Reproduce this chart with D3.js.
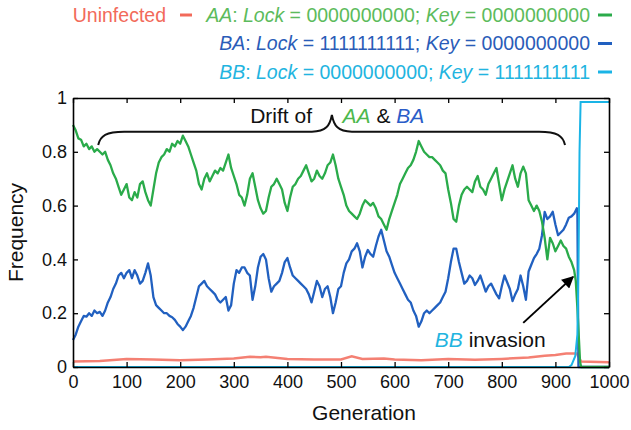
<!DOCTYPE html>
<html>
<head>
<meta charset="utf-8">
<script src="https://cdn.jsdelivr.net/npm/d3@7"></script>
<style>
  html, body { margin: 0; padding: 0; background: #fff; }
  svg { display: block; font-family: "Liberation Sans", Arial, Helvetica, sans-serif; }
</style>
</head>
<body>
<svg id="chart" width="631" height="430"></svg>
<script>
// ---- Data ----
const xTicks = [0, 100, 200, 300, 400, 500, 600, 700, 800, 900, 1000];
const yTicks = [0, 0.2, 0.4, 0.6, 0.8, 1];

// AA: Lock = 0000000000; Key = 0000000000  (green)
const aaSeries = [
  [0,.90],[5,.88],[10,.85],[15,.845],[20,.82],[25,.83],[30,.81],[35,.82],[40,.80],[45,.81],
  [50,.80],[55,.79],[60,.80],[65,.77],[70,.75],[75,.72],[80,.70],[85,.67],[90,.64],[95,.66],
  [100,.68],[105,.63],[110,.62],[115,.65],[120,.63],[125,.68],[130,.69],[135,.65],[140,.62],[145,.60],
  [150,.66],[155,.72],[160,.76],[165,.78],[170,.79],[175,.81],[180,.80],[185,.83],[190,.82],[195,.84],
  [200,.83],[205,.86],[210,.84],[215,.82],[220,.79],[225,.76],[230,.73],[235,.68],[240,.66],[245,.70],
  [250,.72],[255,.69],[260,.71],[265,.73],[270,.72],[275,.74],[280,.73],[285,.76],[290,.79],[295,.74],
  [300,.71],[305,.68],[310,.64],[315,.63],[320,.60],[325,.64],[330,.70],[335,.72],[340,.67],[345,.62],
  [350,.59],[355,.57],[360,.58],[365,.63],[370,.67],[375,.68],[380,.70],[385,.68],[390,.66],[395,.61],
  [400,.58],[405,.63],[410,.67],[415,.68],[420,.70],[425,.71],[430,.73],[435,.75],[440,.72],[445,.69],
  [450,.70],[455,.73],[460,.71],[465,.70],[470,.72],[475,.75],[480,.76],[485,.79],[490,.75],[495,.70],
  [500,.67],[505,.64],[510,.60],[515,.58],[520,.57],[525,.56],[530,.55],[535,.57],[540,.60],[545,.62],
  [550,.61],[555,.60],[560,.61],[565,.59],[570,.56],[575,.55],[580,.53],[585,.51],[590,.55],[595,.58],
  [600,.61],[605,.64],[610,.68],[615,.70],[620,.72],[625,.74],[630,.75],[635,.77],[640,.80],[645,.84],
  [650,.82],[655,.80],[660,.79],[665,.78],[670,.78],[675,.77],[680,.76],[685,.75],[690,.73],[695,.72],
  [700,.66],[705,.61],[710,.55],[715,.54],[720,.60],[725,.64],[730,.66],[735,.67],[740,.66],[745,.65],
  [750,.69],[755,.71],[760,.67],[765,.66],[770,.64],[775,.68],[780,.70],[785,.72],[790,.74],[795,.68],
  [800,.62],[805,.66],[810,.69],[815,.72],[820,.75],[825,.70],[830,.67],[835,.72],[840,.745],[845,.72],
  [850,.62],[855,.60],[860,.58],[865,.60],[870,.58],[875,.54],[880,.48],[885,.40],[890,.48],[895,.46],
  [900,.43],[905,.45],[910,.47],[915,.45],[920,.44],[925,.41],[930,.39],[935,.36],[938,.32],[941,.22],
  [944,.10],[946,.02],[948,0],[1000,0]
];

// BA: Lock = 1111111111; Key = 0000000000  (blue)
const baSeries = [
  [0,.10],[5,.12],[10,.15],[15,.17],[20,.19],[25,.187],[30,.20],[35,.19],[40,.21],[45,.20],
  [50,.205],[55,.19],[60,.21],[65,.24],[70,.26],[75,.29],[80,.31],[85,.34],[90,.35],[95,.33],
  [100,.35],[105,.36],[110,.33],[115,.36],[120,.34],[125,.31],[130,.32],[135,.35],[140,.385],[145,.34],
  [150,.26],[155,.23],[160,.22],[165,.21],[170,.20],[175,.20],[180,.19],[185,.185],[190,.175],[195,.16],
  [200,.15],[205,.137],[210,.15],[215,.17],[220,.19],[225,.22],[230,.26],[235,.30],[240,.31],[245,.32],
  [250,.30],[255,.29],[260,.28],[265,.27],[270,.25],[275,.24],[280,.25],[285,.26],[290,.21],[295,.23],
  [300,.31],[305,.36],[310,.35],[315,.37],[320,.37],[325,.35],[330,.34],[335,.25],[340,.30],[345,.37],
  [350,.41],[355,.42],[360,.40],[365,.33],[370,.28],[375,.30],[380,.31],[385,.32],[390,.35],[395,.39],
  [400,.405],[405,.37],[410,.34],[415,.33],[420,.32],[425,.31],[430,.30],[435,.29],[440,.27],[445,.24],
  [450,.28],[455,.32],[460,.30],[465,.26],[470,.29],[475,.30],[480,.26],[485,.20],[490,.24],[495,.29],
  [500,.30],[505,.35],[510,.385],[515,.40],[520,.43],[525,.44],[530,.46],[535,.43],[540,.37],[545,.41],
  [550,.435],[555,.42],[560,.41],[565,.45],[570,.485],[575,.51],[580,.47],[585,.43],[590,.41],[595,.38],
  [600,.35],[605,.33],[610,.31],[615,.29],[620,.27],[625,.25],[630,.24],[635,.21],[640,.19],[645,.15],
  [650,.17],[655,.20],[660,.21],[665,.20],[670,.21],[675,.22],[680,.23],[685,.24],[690,.26],[695,.28],
  [700,.33],[705,.39],[710,.44],[715,.44],[720,.39],[725,.35],[730,.31],[735,.32],[740,.34],[745,.33],
  [750,.305],[755,.32],[760,.34],[765,.31],[770,.28],[775,.30],[780,.31],[785,.29],[790,.27],[795,.255],
  [800,.30],[805,.34],[810,.315],[815,.29],[820,.245],[825,.27],[830,.29],[835,.34],[840,.30],[845,.25],
  [850,.355],[855,.38],[860,.405],[865,.42],[870,.44],[875,.49],[880,.577],[885,.55],[890,.56],[895,.577],
  [900,.53],[905,.49],[910,.50],[915,.51],[920,.53],[925,.555],[930,.56],[935,.57],[940,.59],[941,.58],
  [943,0],[1000,0]
];

// BB: Lock = 0000000000; Key = 1111111111  (cyan)
const bbSeries = [
  [0,0],[925,0],[930,.007],[937,.04],[941,.12],[943,.35],[945,.80],[947,.985],[1000,.985]
];

// Uninfected (red)
const uninfSeries = [
  [0,.02],[50,.022],[100,.03],[150,.028],[200,.025],[250,.028],[300,.032],[330,.038],[350,.036],
  [360,.038],[400,.03],[450,.028],[500,.028],[520,.04],[540,.03],[580,.032],[600,.028],[650,.025],
  [700,.03],[750,.027],[800,.03],[850,.035],[880,.042],[900,.045],[920,.05],[940,.05],[948,.02],[1000,.018]
];

const legendItems = [
  {code: "AA", lock: "0000000000", key: "0000000000", color: "#5cbb5c", line: "#2aab4a"},
  {code: "BA", lock: "1111111111", key: "0000000000", color: "#2a5cb8", line: "#2160c0"},
  {code: "BB", lock: "0000000000", key: "1111111111", color: "#22b4e0", line: "#1ab4e6"}
];

// ---- Drawing ----
const svg = d3.select("#chart");
const W = 631, H = 430;
const m = {left: 73, right: 22, top: 98, bottom: 63};
const x = d3.scaleLinear().domain([0, 1000]).range([m.left, W - m.right]);
const y = d3.scaleLinear().domain([0, 1]).range([H - m.bottom, m.top]);

const line = d3.line().x(d => x(d[0])).y(d => y(d[1]));

const plot = svg.append("g");
plot.append("path").datum(uninfSeries).attr("d", line)
  .attr("fill", "none").attr("stroke", "#f26a5a").attr("stroke-opacity", 0.85).attr("stroke-width", 2.5);
plot.append("path").datum(baSeries).attr("d", line)
  .attr("fill", "none").attr("stroke", "#2160c0").attr("stroke-width", 2.3).attr("stroke-linejoin", "round");
plot.append("path").datum(aaSeries).attr("d", line)
  .attr("fill", "none").attr("stroke", "#2aab4a").attr("stroke-width", 2.3).attr("stroke-linejoin", "round");
plot.append("path").datum(bbSeries).attr("d", line)
  .attr("fill", "none").attr("stroke", "#1ab4e6").attr("stroke-width", 2);

// Axes
const fmtY = d => (d === 0 || d === 1) ? String(d) : d.toFixed(1);
const fmtX = d => String(d);
const gB = svg.append("g").attr("transform", `translate(0,${y(0)})`)
  .call(d3.axisBottom(x).tickValues(xTicks).tickSizeInner(-5).tickSizeOuter(0).tickPadding(8).tickFormat(fmtX));
const gT = svg.append("g").attr("transform", `translate(0,${y(1)})`)
  .call(d3.axisTop(x).tickValues(xTicks).tickSizeInner(-5).tickSizeOuter(0).tickFormat(""));
const gL = svg.append("g").attr("transform", `translate(${x(0)},0)`)
  .call(d3.axisLeft(y).tickValues(yTicks).tickSizeInner(-5).tickSizeOuter(0).tickPadding(6).tickFormat(fmtY));
const gR = svg.append("g").attr("transform", `translate(${x(1000)},0)`)
  .call(d3.axisRight(y).tickValues(yTicks).tickSizeInner(-5).tickSizeOuter(0).tickFormat(""));
[gB, gT, gL, gR].forEach(g => {
  g.select(".domain").attr("stroke", "#000").attr("stroke-width", 1.6);
  g.selectAll(".tick line").attr("stroke", "#000").attr("stroke-width", 1.3);
  g.selectAll(".tick text").attr("font-size", 18).attr("fill", "#111")
    .attr("font-family", "'Liberation Sans', Arial, sans-serif");
});

// Axis titles
svg.append("text").attr("x", 364).attr("y", 420).attr("text-anchor", "middle")
  .attr("font-size", 21).attr("fill", "#111").text("Generation");
svg.append("text").attr("transform", `translate(23,${(y(0) + y(1)) / 2}) rotate(-90)`)
  .attr("text-anchor", "middle").attr("font-size", 21).attr("fill", "#111").text("Frequency");

// Legend
const legendRight = 590;
const lg = svg.append("g").attr("font-size", 19.5);
legendItems.forEach((it, i) => {
  const by = 21.5 + i * 28.5;
  const t = lg.append("text").attr("x", legendRight).attr("y", by).attr("text-anchor", "end").attr("fill", it.color);
  t.append("tspan").attr("font-style", "italic").text(it.code);
  t.append("tspan").text(": ");
  t.append("tspan").attr("font-style", "italic").text("Lock");
  t.append("tspan").text(" = " + it.lock + "; ");
  t.append("tspan").attr("font-style", "italic").text("Key");
  t.append("tspan").text(" = " + it.key);
  lg.append("line").attr("x1", legendRight + 8).attr("x2", legendRight + 22)
    .attr("y1", by - 6.5).attr("y2", by - 6.5).attr("stroke", it.line).attr("stroke-width", 3);
});
lg.append("text").attr("x", 166).attr("y", 21.5).attr("text-anchor", "end")
  .attr("fill", "#f26a5a").text("Uninfected");
lg.append("line").attr("x1", 180).attr("x2", 192).attr("y1", 15).attr("y2", 15)
  .attr("stroke", "#f26a5a").attr("stroke-width", 3);

// Brace annotation ("Drift of AA & BA")
const bx1 = x(47), bx2 = x(918), bxm = x(483);
const byEnd = y(0.825), byH = y(0.875), byTip = y(0.937);
const brace = `M${bx1},${byEnd} C${bx1 + 2},${byH + 4} ${bx1 + 8},${byH} ${bx1 + 26},${byH}
  L${bxm - 20},${byH} C${bxm - 6},${byH} ${bxm - 2},${byH - 6} ${bxm},${byTip}
  C${bxm + 2},${byH - 6} ${bxm + 6},${byH} ${bxm + 20},${byH}
  L${bx2 - 26},${byH} C${bx2 - 8},${byH} ${bx2 - 2},${byH + 4} ${bx2},${byEnd}`;
svg.append("path").attr("d", brace).attr("fill", "none").attr("stroke", "#111").attr("stroke-width", 2);

svg.append("text").attr("x", x(446)).attr("y", y(0.907)).attr("text-anchor", "end")
  .attr("font-size", 21).attr("fill", "#111").text("Drift of");
const drift = svg.append("text").attr("x", x(503)).attr("y", y(0.907)).attr("font-size", 21).attr("fill", "#111");
drift.append("tspan").attr("font-style", "italic").attr("fill", "#4cb84c").text("AA");
drift.append("tspan").text(" & ");
drift.append("tspan").attr("font-style", "italic").attr("fill", "#2a5cc8").text("BA");

// Arrow annotation ("BB invasion")
svg.append("defs").append("marker").attr("id", "ah").attr("viewBox", "0 0 10 10")
  .attr("refX", 9).attr("refY", 5).attr("markerWidth", 7).attr("markerHeight", 6)
  .attr("markerUnits", "strokeWidth").attr("orient", "auto")
  .append("path").attr("d", "M0,0 L10,5 L0,10 Z").attr("fill", "#000");
svg.append("line").attr("x1", x(840)).attr("y1", y(0.164)).attr("x2", x(933)).attr("y2", y(0.335))
  .attr("stroke", "#000").attr("stroke-width", 2).attr("marker-end", "url(#ah)");
const inv = svg.append("text").attr("x", x(675)).attr("y", y(0.074)).attr("font-size", 21).attr("fill", "#111");
inv.append("tspan").attr("font-style", "italic").attr("fill", "#22b4e0").text("BB");
inv.append("tspan").text(" invasion");
</script>
</body>
</html>
